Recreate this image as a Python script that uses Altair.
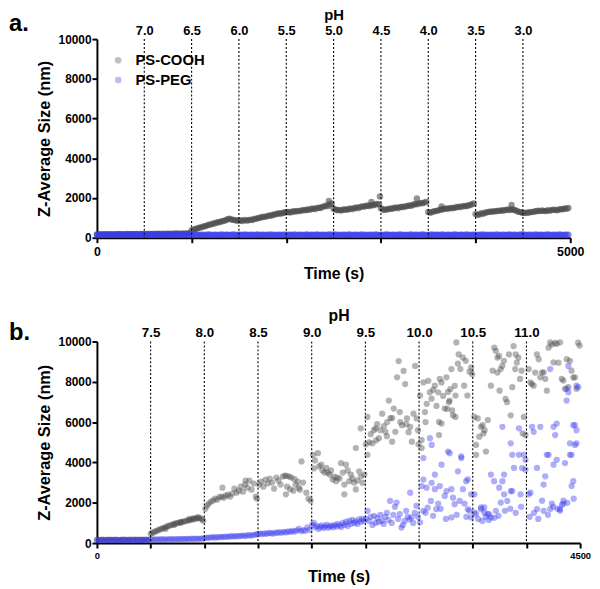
import altair as alt
import pandas as pd

FONT = "Liberation Sans"
SERIES = ["PS-COOH", "PS-PEG"]
COLORS = ["#4a4a4a", "#3c3cee"]

# ---------------- Panel a (acid titration) ----------------
a_time = [
    0, 20, 40, 60, 80, 100, 120, 140, 160, 180, 200, 220, 240, 260, 280, 300, 320, 340, 360, 380, 400, 420, 440, 460, 480,
    500, 520, 540, 560, 580, 600, 620, 640, 660, 680, 700, 720, 740, 760, 780, 800, 820, 840, 860, 880, 900, 920, 940, 960, 980,
    1000, 1020, 1040, 1060, 1080, 1100, 1120, 1140, 1160, 1180, 1200, 1220, 1240, 1260, 1280, 1300, 1320, 1340, 1360, 1380, 1400, 1420, 1440, 1460, 1480,
    1500, 1520, 1540, 1560, 1580, 1600, 1620, 1640, 1660, 1680, 1700, 1720, 1740, 1760, 1780, 1800, 1820, 1840, 1860, 1880, 1900, 1920, 1940, 1960, 1980,
    2000, 2020, 2040, 2060, 2080, 2100, 2120, 2140, 2160, 2180, 2200, 2220, 2240, 2260, 2280, 2300, 2320, 2340, 2360, 2380, 2400, 2420, 2440, 2460, 2480,
    2500, 2520, 2540, 2560, 2580, 2600, 2620, 2640, 2660, 2680, 2700, 2720, 2740, 2760, 2780, 2800, 2820, 2840, 2860, 2880, 2900, 2920, 2940, 2960, 2980,
    3000, 3020, 3040, 3060, 3080, 3100, 3120, 3140, 3160, 3180, 3200, 3220, 3240, 3260, 3280, 3300, 3320, 3340, 3360, 3380, 3400, 3420, 3440, 3460, 3480,
    3500, 3520, 3540, 3560, 3580, 3600, 3620, 3640, 3660, 3680, 3700, 3720, 3740, 3760, 3780, 3800, 3820, 3840, 3860, 3880, 3900, 3920, 3940, 3960, 3980,
    4000, 4020, 4040, 4060, 4080, 4100, 4120, 4140, 4160, 4180, 4200, 4220, 4240, 4260, 4280, 4300, 4320, 4340, 4360, 4380, 4400, 4420, 4440, 4460, 4480,
    4500, 4520, 4540, 4560, 4580, 4600, 4620, 4640, 4660, 4680, 4700, 4720, 4740, 4760, 4780, 4800, 4820, 4840, 4860, 4880, 4900, 4920, 4940, 4960, 4980,
]
a_cooh = [
    160, 170, 175, 165, 170, 180, 170, 175, 180, 170, 175, 180, 185, 175, 180, 175, 185, 180, 175, 185, 180, 190, 180, 185, 190,
    180, 185, 190, 195, 185, 190, 195, 200, 190, 195, 200, 195, 200, 205, 195, 200, 205, 210, 200, 205, 210, 205, 210, 215, 220,
    380, 400, 440, 470, 500, 520, 560, 580, 610, 650, 660, 700, 720, 760, 780, 790, 830, 850, 880, 930, 960, 920, 900, 880, 870,
    860, 880, 840, 900, 870, 880, 910, 890, 940, 960, 980, 1010, 1030, 1060, 1050, 1090, 1120, 1110, 1160, 1170, 1200, 1230, 1210, 1250, 1270,
    1280, 1300, 1270, 1310, 1330, 1320, 1350, 1340, 1370, 1390, 1380, 1420, 1400, 1450, 1470, 1440, 1490, 1510, 1500, 1550, 1580, 1620, 1590, 1680, 1720,
    1460, 1420, 1380, 1400, 1370, 1410, 1430, 1400, 1450, 1470, 1440, 1500, 1520, 1490, 1550, 1580, 1560, 1600, 1620, 1590, 1650, 1630, 1670, 1700, 1680,
    1480, 1420, 1400, 1440, 1430, 1470, 1460, 1500, 1520, 1490, 1540, 1560, 1550, 1580, 1600, 1620, 1610, 1660, 1700, 1680, 1720, 1750, 1730, 1780, 1800,
    1300, 1260, 1290, 1330, 1340, 1370, 1390, 1420, 1440, 1470, 1460, 1480, 1500, 1490, 1520, 1530, 1560, 1550, 1580, 1600, 1590, 1620, 1650, 1680, 1720,
    1200, 1150, 1170, 1230, 1210, 1260, 1280, 1300, 1320, 1310, 1340, 1330, 1360, 1350, 1380, 1370, 1400, 1420, 1390, 1430, 1410, 1380, 1330, 1300, 1280,
    1250, 1240, 1270, 1260, 1300, 1290, 1320, 1330, 1360, 1340, 1370, 1350, 1340, 1380, 1360, 1390, 1410, 1400, 1380, 1420, 1440, 1430, 1470, 1460, 1500,
]
a_peg = [
    150, 140, 155, 145, 160, 150, 140, 150, 155, 145, 150, 160, 145, 150, 140, 155, 150, 145, 160, 150, 140, 150, 155, 145, 150,
    145, 155, 150, 140, 160, 150, 145, 155, 150, 160, 140, 150, 155, 145, 150, 160, 150, 140, 155, 150, 145, 160, 150, 155, 140,
    150, 145, 160, 150, 140, 155, 150, 145, 155, 160, 150, 140, 150, 155, 145, 150, 160, 145, 150, 155, 140, 150, 160, 150, 145,
    155, 150, 140, 160, 150, 145, 150, 155, 140, 150, 160, 145, 155, 150, 140, 150, 155, 160, 145, 150, 140, 155, 150, 145, 160,
    140, 150, 155, 145, 160, 150, 140, 155, 150, 145, 150, 160, 140, 150, 155, 145, 160, 150, 140, 150, 155, 145, 150, 160, 150,
    150, 160, 145, 150, 140, 155, 150, 145, 160, 150, 140, 150, 155, 145, 150, 160, 145, 150, 140, 155, 150, 145, 160, 150, 140,
    155, 145, 150, 160, 150, 140, 155, 150, 145, 150, 160, 150, 140, 155, 145, 150, 160, 145, 150, 155, 140, 150, 160, 150, 145,
    145, 150, 160, 140, 155, 150, 145, 160, 150, 140, 150, 155, 145, 150, 160, 150, 140, 155, 150, 145, 160, 150, 140, 150, 155,
    150, 140, 155, 150, 160, 145, 150, 140, 155, 150, 145, 160, 150, 140, 150, 155, 145, 150, 160, 145, 150, 155, 140, 150, 160,
    160, 150, 145, 155, 150, 140, 150, 160, 145, 150, 155, 140, 150, 160, 150, 145, 155, 150, 140, 160, 150, 145, 150, 155, 150,
]
a_cooh_extra = [(2450, 1850), (2900, 1800), (2990, 2080), (3380, 1980), (4380, 1650), (3640, 1580)]
a_ph_time = [500, 1000, 1500, 2000, 2500, 3000, 3500, 4000, 4500]
a_ph_label = ["7.0", "6.5", "6.0", "5.5", "5.0", "4.5", "4.0", "3.5", "3.0"]
a_xticks = [0, 1000, 2000, 3000, 4000, 5000]

# ---------------- Panel b (base titration) ----------------
b_cooh = [
    # flat start
    (0, 150), (20, 160), (40, 155), (60, 165), (80, 150), (100, 160), (120, 170), (140, 155), (160, 160),
    (180, 165), (200, 150), (220, 160), (240, 170), (260, 165), (280, 155), (300, 160), (320, 170), (340, 160),
    (360, 165), (380, 155), (400, 170), (420, 160), (440, 165), (460, 170), (480, 160),
    # pH 7.5
    (500, 460), (515, 500), (530, 540), (545, 580), (560, 620), (575, 640), (590, 690), (605, 720), (620, 740),
    (635, 780), (650, 820), (665, 850), (680, 870), (695, 900), (710, 930), (725, 960), (740, 980), (755, 1000),
    (770, 1030), (785, 1050), (800, 1060), (815, 1080), (830, 1090), (845, 1120), (860, 1130), (875, 1160),
    (890, 1180), (905, 1190), (920, 1210), (935, 1230), (950, 1250), (965, 1220), (980, 1170), (990, 1110),
    (860, 1200), (900, 1240), (940, 1290), (780, 1000), (720, 900), (640, 700),
    # pH 8.0
    (1010, 1700), (1025, 1850), (1040, 1950), (1060, 2050), (1080, 2100), (1100, 2200), (1120, 2150), (1140, 2280),
    (1160, 2300), (1180, 2250), (1200, 2350), (1220, 2400), (1240, 2300), (1260, 2450), (1280, 2700), (1300, 2500),
    (1320, 2600), (1340, 2800), (1360, 2550), (1380, 2900), (1400, 2750), (1420, 3100), (1440, 2650), (1460, 2950),
    (1480, 2300), (1490, 2200), (1169, 2750), (1384, 3100),
    # pH 8.5
    (1510, 2900), (1530, 3050), (1550, 2800), (1570, 3150), (1590, 2950), (1610, 3200), (1630, 3000), (1650, 2700),
    (1670, 3250), (1690, 3100), (1710, 2900), (1730, 3300), (1750, 3350), (1767, 3330), (1770, 2800), (1790, 3300),
    (1810, 3250), (1830, 2600), (1840, 3170), (1850, 2900), (1870, 3050), (1880, 2750), (1890, 2650), (1905, 4050),
    (1920, 3000), (1950, 2500), (1970, 2200), (1990, 2100), (1800, 2670), (1760, 2420),
    # pH 9.0
    (2012, 4380), (2020, 3700), (2030, 4100), (2058, 4460), (2070, 3800), (2088, 3890), (2100, 3600), (2120, 3500),
    (2135, 3730), (2150, 3500), (2166, 3400), (2180, 3600), (2196, 3150), (2210, 3300), (2227, 3070), (2240, 3250),
    (2260, 3200), (2273, 3970), (2290, 3500), (2304, 2900), (2304, 2420), (2319, 3890), (2335, 3600), (2350, 3070),
    (2365, 3400), (2380, 3200), (2395, 3000), (2411, 2660), (2411, 4710), (2425, 3100), (2442, 3560), (2457, 5690),
    (2458, 3300), (2473, 2990), (2490, 3400),
    # pH 9.5
    (2505, 4900), (2519, 4380), (2519, 6260), (2535, 5000), (2550, 5400), (2565, 4950), (2580, 5600), (2595, 5690),
    (2600, 5100), (2610, 5900), (2626, 5200), (2640, 5600), (2657, 6420), (2672, 5800), (2687, 5520), (2700, 5300),
    (2703, 6000), (2718, 7070), (2733, 6200), (2749, 5030), (2750, 6200), (2764, 6670), (2779, 5520), (2795, 8220),
    (2810, 9030), (2820, 6500), (2825, 6000), (2841, 5850), (2856, 8540), (2871, 7890), (2880, 5900), (2887, 6180),
    (2902, 5500), (2917, 5770), (2933, 5030), (2948, 6420), (2963, 8790), (2978, 6180), (2990, 5600), (2995, 4900),
    # pH 10.0
    (3009, 7320), (3024, 5110), (3024, 4710), (3040, 7970), (3055, 6500), (3060, 6000), (3071, 6910), (3086, 8050),
    (3100, 7480), (3116, 7160), (3130, 7600), (3147, 7810), (3162, 6800), (3178, 7480), (3186, 6010), (3186, 5360),
    (3193, 8140), (3209, 5930), (3209, 7970), (3224, 7300), (3239, 6670), (3255, 8220), (3262, 6660), (3270, 7500),
    (3278, 6990), (3285, 7070), (3292, 7640), (3301, 8630), (3308, 6580), (3316, 6340), (3332, 7800), (3339, 7320),
    (3339, 6260), (3347, 9950), (3362, 8900), (3369, 9360), (3385, 8630), (3408, 9200), (3420, 7810), (3435, 9040),
    (3450, 7320), (3470, 8500), (3485, 8710), (3495, 8380),
    # pH 10.5
    (3515, 6260), (3530, 4870), (3531, 4380), (3546, 6180), (3561, 5280), (3577, 5770), (3592, 5850), (3600, 5440),
    (3610, 5600), (3623, 4540), (3640, 6100), (3669, 7810), (3685, 8550), (3700, 9690), (3715, 9530), (3730, 9200),
    (3730, 8460), (3745, 9280), (3750, 7560), (3760, 8630), (3775, 8790), (3790, 9040), (3805, 7150), (3820, 6990),
    (3837, 9360), (3853, 6340), (3868, 7730), (3880, 9770), (3895, 8630), (3900, 9360), (3910, 8950), (3925, 9200),
    (3940, 8140), (3955, 8550), (3965, 5440), (3976, 6260), (3991, 5360),
    # pH 11.0
    (4021, 8630), (4036, 7970), (4051, 7890), (4067, 7810), (4082, 8460), (4098, 9360), (4114, 9120), (4129, 8220),
    (4145, 8460), (4160, 8470), (4175, 8140), (4190, 7560), (4206, 9690), (4221, 9950), (4236, 9850), (4252, 8960),
    (4267, 9930), (4282, 9880), (4298, 8950), (4313, 9960), (4328, 8140), (4344, 8060), (4359, 7650), (4375, 9120),
    (4390, 7730), (4405, 9040), (4420, 8550), (4436, 8210), (4451, 8220), (4466, 7650), (4481, 9940), (4495, 9800),
]
b_peg = [
    # flat start
    (0, 150), (20, 145), (40, 155), (60, 150), (80, 140), (100, 155), (120, 150), (140, 145), (160, 155), (180, 150),
    (200, 145), (220, 155), (240, 150), (260, 140), (280, 150), (300, 155), (320, 150), (340, 145), (360, 155), (380, 150),
    (400, 145), (420, 155), (440, 150), (460, 150), (480, 155),
    (500, 170), (520, 180), (540, 175), (560, 185), (580, 170), (600, 190), (620, 180), (640, 175), (660, 190), (680, 185),
    (700, 195), (720, 180), (740, 200), (760, 190), (780, 195), (800, 205), (820, 190), (840, 210), (860, 200), (880, 215),
    (900, 205), (920, 220), (940, 210), (960, 225), (980, 215),
    # pH 8.0
    (1000, 250), (1020, 270), (1040, 260), (1060, 280), (1080, 290), (1100, 270), (1120, 300), (1140, 290), (1160, 310),
    (1180, 300), (1200, 320), (1220, 310), (1240, 330), (1260, 340), (1280, 320), (1300, 350), (1320, 340), (1340, 360),
    (1360, 370), (1380, 350), (1400, 380), (1420, 390), (1440, 370), (1460, 410), (1480, 420),
    # pH 8.5
    (1500, 450), (1520, 470), (1540, 440), (1560, 480), (1580, 460), (1600, 500), (1620, 490), (1640, 470), (1660, 520),
    (1680, 500), (1700, 540), (1720, 510), (1740, 560), (1760, 530), (1780, 580), (1800, 550), (1820, 600), (1840, 570),
    (1860, 620), (1880, 700), (1900, 590), (1920, 640), (1940, 610), (1960, 780), (1980, 650),
    # pH 9.0
    (2005, 900), (2020, 1000), (2035, 780), (2050, 850), (2065, 700), (2080, 800), (2095, 880), (2110, 750), (2125, 820),
    (2140, 900), (2155, 760), (2170, 830), (2185, 870), (2200, 780), (2215, 900), (2230, 820), (2245, 950), (2260, 870),
    (2275, 800), (2290, 1000), (2305, 900), (2320, 1050), (2335, 850), (2350, 1100), (2365, 950), (2380, 1150),
    (2395, 1000), (2410, 1080), (2425, 950), (2440, 1180), (2455, 1050), (2470, 1200), (2485, 1100),
    # pH 9.5
    (2505, 1200), (2520, 1600), (2535, 1100), (2550, 1300), (2565, 900), (2580, 1350), (2595, 1000), (2610, 1250),
    (2625, 1050), (2640, 1400), (2655, 1100), (2670, 950), (2685, 1300), (2700, 1500), (2715, 1150), (2730, 2090),
    (2745, 1000), (2760, 1400), (2775, 1800), (2790, 2010), (2805, 1200), (2820, 1440), (2835, 770), (2850, 900),
    (2865, 1100), (2880, 1600), (2895, 1300), (2910, 1180), (2917, 2500), (2930, 1270), (2945, 1000), (2960, 1500),
    (2975, 1850), (2990, 1300),
    # pH 10.0
    (3009, 1030), (3025, 2830), (3040, 4220), (3040, 1600), (3040, 3150), (3060, 1500), (3070, 2750), (3080, 1760),
    (3101, 5200), (3110, 2090), (3117, 2990), (3117, 4870), (3130, 1350), (3147, 2670), (3147, 3400), (3160, 1690),
    (3178, 1960), (3193, 2830), (3200, 1700), (3209, 3890), (3239, 2340), (3250, 1200), (3255, 2580), (3270, 4540),
    (3285, 4460), (3301, 2670), (3301, 1270), (3316, 2250), (3331, 1930), (3350, 1400), (3362, 3560), (3377, 2090),
    (3393, 4220), (3393, 4300), (3408, 2670), (3423, 1960), (3439, 3070), (3440, 1300), (3454, 3160), (3454, 1680),
    (3469, 1600), (3485, 1270), (3485, 2420),
    # pH 10.5
    (3515, 1520), (3515, 2420), (3531, 1440), (3550, 1200), (3577, 1770), (3577, 1680), (3590, 1100), (3607, 1520),
    (3607, 1770), (3620, 1300), (3638, 1440), (3650, 1150), (3653, 1440), (3669, 1270), (3669, 3400), (3699, 3070),
    (3700, 1250), (3715, 1600), (3740, 1350), (3746, 2750), (3761, 2010), (3776, 3070), (3776, 5770), (3792, 2420),
    (3792, 3400), (3800, 1600), (3822, 2090), (3850, 1700), (3853, 4950), (3853, 2580), (3868, 2580), (3868, 4380),
    (3884, 3730), (3900, 1500), (3930, 5690), (3930, 4380), (3945, 2420), (3950, 1800), (3960, 3720), (3976, 4380),
    (3991, 4130), (3991, 3640),
    # pH 11.0
    (4021, 2420), (4030, 1300), (4037, 2500), (4052, 5770), (4067, 5520), (4070, 1500), (4098, 1690), (4098, 3730),
    (4110, 1200), (4129, 5770), (4145, 2100), (4160, 2900), (4160, 1600), (4175, 3310), (4190, 4380), (4200, 1400),
    (4206, 4380), (4221, 1690), (4221, 8630), (4237, 1960), (4250, 1800), (4252, 5770), (4252, 3890), (4267, 5360),
    (4282, 4130), (4282, 5930), (4290, 1700), (4313, 1690), (4313, 1600), (4330, 1900), (4344, 2100), (4344, 1960),
    (4359, 3970), (4374, 7070), (4374, 7650), (4380, 2000), (4390, 7480), (4390, 8790), (4405, 4950), (4405, 4380),
    (4420, 4380), (4420, 2830), (4436, 3070), (4436, 5850), (4440, 2200), (4451, 5850), (4451, 4870), (4466, 4950),
    (4466, 5600), (4466, 7810), (4482, 7730),
]
b_ph_time = [500, 1000, 1500, 2000, 2500, 3000, 3500, 4000]
b_ph_label = ["7.5", "8.0", "8.5", "9.0", "9.5", "10.0", "10.5", "11.0"]
b_xticks = [0, 500, 1000, 1500, 2000, 2500, 3000, 3500, 4000, 4500]

Y_TICKS = [0, 2000, 4000, 6000, 8000, 10000]


def ph_expr(times, labels):
    expr = "''"
    for t, lab in reversed(list(zip(times, labels))):
        expr = f"datum.value == {t} ? '{lab}' : ({expr})"
    return expr


def panel(df, ph_t, ph_lab, xmax, xticks, width, height, letter, letter_y,
          xlab_size, xtitle_size, legend_size, legend_x, legend_y, pt_size, pt_opacity,
          ph_lab_size, ph_title_size):
    xscale = alt.Scale(domain=[0, xmax], nice=False, zero=False)
    yscale = alt.Scale(domain=[0, 10000], nice=False)

    points = alt.Chart(df).mark_circle(size=pt_size, opacity=pt_opacity).encode(
        x=alt.X("time:Q", scale=xscale,
                axis=alt.Axis(orient="bottom", values=xticks, format="d",
                              labelExpr=f"datum.value == 0 || datum.value == {xmax} ? datum.label : ''",
                              title="Time (s)", grid=False, labelFlush=False,
                              labelFontSize=xlab_size, labelFontWeight="bold",
                              titleFontSize=xtitle_size, titleFontWeight="bold",
                              tickSize=5, tickWidth=2, domainWidth=2,
                              tickColor="black", domainColor="black",
                              labelColor="black", titleColor="black",
                              labelPadding=3, titlePadding=8)),
        y=alt.Y("size:Q", scale=yscale,
                axis=alt.Axis(values=Y_TICKS, format="d", title="Z-Average Size (nm)",
                              grid=False, labelFontSize=12, labelFontWeight="bold",
                              titleFontSize=16.5, titleFontWeight="bold",
                              tickSize=5, tickWidth=2, domainWidth=2,
                              tickColor="black", domainColor="black",
                              labelColor="black", titleColor="black",
                              labelPadding=1, titlePadding=6)),
        color=alt.Color("series:N",
                        scale=alt.Scale(domain=SERIES, range=COLORS),
                        legend=alt.Legend(orient="none", legendX=legend_x, legendY=legend_y,
                                          title=None, labelFontSize=legend_size,
                                          labelFontWeight="bold", labelColor="black",
                                          symbolType="circle", symbolSize=45,
                                          symbolOpacity=0.35,
                                          rowPadding=4, labelOffset=10)),
    )

    ph_df = pd.DataFrame({"time": ph_t, "ph": ph_lab})
    rules = alt.Chart(ph_df).mark_rule(color="black", strokeDash=[2, 2], strokeWidth=1.1).encode(
        x=alt.X("time:Q", scale=xscale,
                axis=alt.Axis(orient="top", values=ph_t, labelExpr=ph_expr(ph_t, ph_lab),
                              title="pH", grid=False, domain=False, ticks=False,
                              labelFlush=False, labelFontSize=ph_lab_size,
                              labelFontWeight="bold", labelColor="black",
                              titleFontSize=ph_title_size, titleFontWeight="bold",
                              titleColor="black", labelPadding=2, titlePadding=2)),
        y=alt.value(0),
        y2=alt.value(height),
    )

    letter_chart = alt.Chart(pd.DataFrame({"t": [letter]})).mark_text(
        align="left", baseline="alphabetic", fontSize=24, fontWeight="bold",
        font=FONT, color="black"
    ).encode(text="t:N", x=alt.value(-89), y=alt.value(letter_y))

    return alt.layer(points, rules, letter_chart).properties(width=width, height=height)


a_rows = [(t, v, SERIES[0]) for t, v in zip(a_time, a_cooh)]
a_rows += [(t, v, SERIES[0]) for t, v in a_cooh_extra]
a_rows += [(t, v, SERIES[1]) for t, v in zip(a_time, a_peg)]
df_a = pd.DataFrame(a_rows, columns=["time", "size", "series"])

b_rows = [(t, v, SERIES[0]) for t, v in b_cooh] + [(t, v, SERIES[1]) for t, v in b_peg]
df_b = pd.DataFrame(b_rows, columns=["time", "size", "series"])

chart_a = panel(df_a, a_ph_time, a_ph_label, 5000, a_xticks, 479, 201, "a.", -8,
                12.5, 16, 15, 14, 14, 42, 0.6, 13, 15)
chart_b = panel(df_b, b_ph_time, b_ph_label, 4500, b_xticks, 489, 204, "b.", -2,
                9.5, 16.5, 14, 16, 14, 40, 0.42, 13.5, 16)

chart = alt.vconcat(chart_a, chart_b, spacing=25).configure(
    font=FONT, padding={"left": 0, "top": -5, "right": 0, "bottom": 0}
).configure_view(stroke="transparent")

chart.save("out.html", embed_options={"renderer": "svg", "actions": False})
